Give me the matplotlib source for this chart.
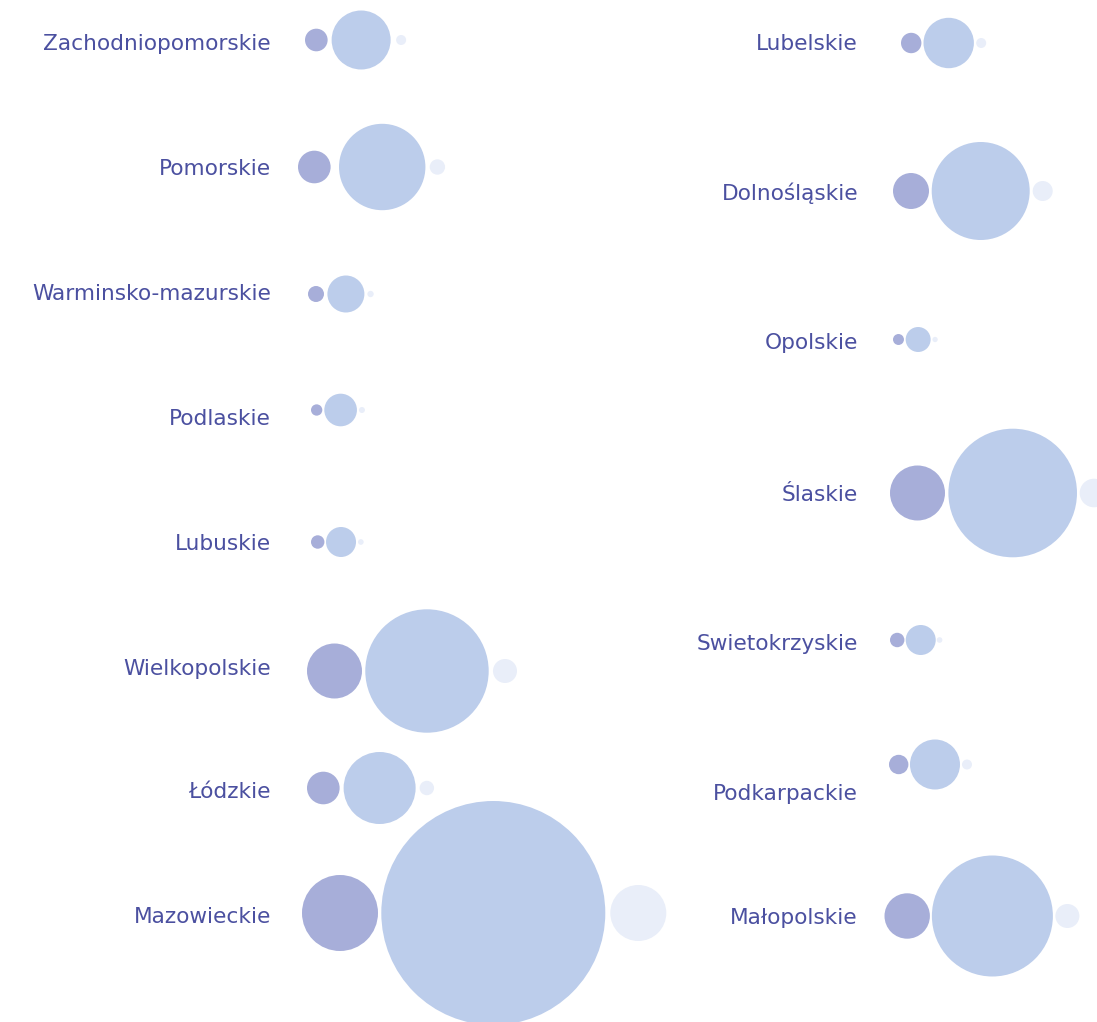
import matplotlib.pyplot as plt
from matplotlib.patches import Circle

# --- Data (values are circle areas, radius = sqrt(value)) ---
left_regions = ["Zachodniopomorskie", "Pomorskie", "Warminsko-mazurskie", "Podlaskie",
                "Lubuskie", "Wielkopolskie", "Łódzkie", "Mazowieckie"]
left_small = [128, 266, 64, 32, 45, 756, 266, 1444]
left_big = [870, 1866, 342, 266, 225, 3807, 1296, 12544]
left_tiny = [25, 59, 10, 9, 8, 144, 52, 784]

right_regions = ["Lubelskie", "Dolnośląskie", "Opolskie", "Ślaskie",
                 "Swietokrzyskie", "Podkarpackie", "Małopolskie"]
right_small = [104, 324, 30, 756, 52, 94, 515]
right_big = [635, 2401, 156, 4134, 225, 625, 3660]
right_tiny = [25, 100, 7, 204, 8, 25, 144]

# --- Layout (label baselines, bubble rows, packing offsets) ---
left_label_y = [50, 175, 300, 425, 550, 675, 798, 923]
left_bubble_y = [40, 167, 294, 410, 542, 671, 788, 913]
left_start = [305, 298, 308, 311, 311, 307, 307, 302]
left_gap1 = [4, 8.4, 3.4, 2, 1.6, 3.3, 4, 3.3]
left_gap2 = [5.5, 4.3, 3, 2, 2, 4.3, 4, 5]

right_label_y = [50, 200, 349, 501, 650, 800, 924]
right_bubble_y = [43, 191, 339.5, 493, 640, 764.5, 916]
right_start = [901, 893, 893, 890, 890, 889, 884.5]
right_gap1 = [2.1, 2.7, 1.7, 3.4, 1.3, 1.6, 2]
right_gap2 = [2.3, 3, 1.8, 2.7, 1, 2, 2.5]

LEFT_LABEL_X = 271
RIGHT_LABEL_X = 858

C_SMALL = "#a7aed9"
C_BIG = "#bccdeb"
C_TINY = "#e9eef9"
C_TEXT = "#4b50a0"

fig = plt.figure(figsize=(10.97, 10.22), dpi=100)
ax = fig.add_axes([0, 0, 1, 1])
ax.set_xlim(0, 1097)
ax.set_ylim(1022, 0)
ax.set_aspect("equal")
ax.axis("off")


def draw_column(names, small, big, tiny, label_y, bubble_y, starts, gap1, gap2, label_x):
    for i, name in enumerate(names):
        ax.text(label_x, label_y[i], name, ha="right", va="baseline", fontsize=15.6,
                color=C_TEXT, family=["DejaVu Sans"])
        x = starts[i]
        y = bubble_y[i]
        gaps = [gap1[i], gap2[i], 0]
        for val, col, g in zip((small[i], big[i], tiny[i]), (C_SMALL, C_BIG, C_TINY), gaps):
            r = val ** 0.5
            ax.add_patch(Circle((x + r, y), r, color=col, lw=0))
            x += 2 * r + g


draw_column(left_regions, left_small, left_big, left_tiny, left_label_y, left_bubble_y,
            left_start, left_gap1, left_gap2, LEFT_LABEL_X)
draw_column(right_regions, right_small, right_big, right_tiny, right_label_y, right_bubble_y,
            right_start, right_gap1, right_gap2, RIGHT_LABEL_X)

plt.savefig("out.png", dpi=100)
